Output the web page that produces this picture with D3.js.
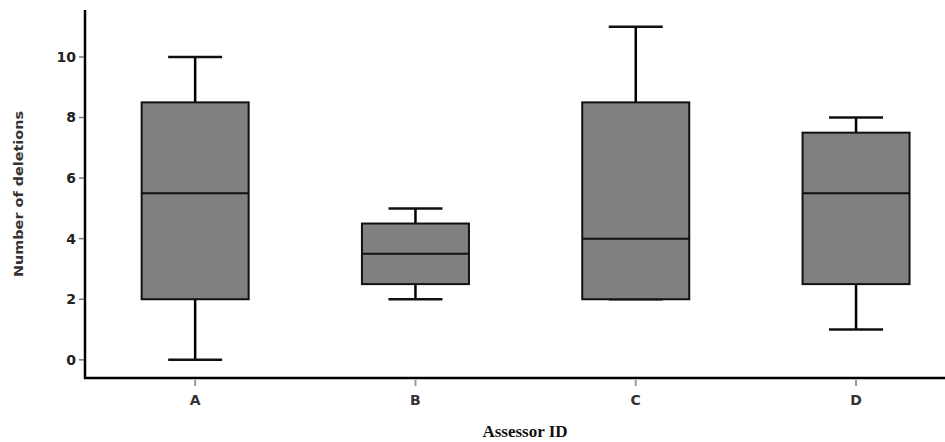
<!DOCTYPE html>
<html>
<head>
<meta charset="utf-8">
<script src="https://cdn.jsdelivr.net/npm/d3@7"></script>
<style>
  body { margin: 0; background: #fff; }
  svg { display: block; }
</style>
</head>
<body>
<svg id="chart" width="945" height="442"></svg>
<script>
const assessors = ["A", "B", "C", "D"];
const mins    = [0, 2, 2, 1];
const q1s     = [2, 2.5, 2, 2.5];
const medians = [5.5, 3.5, 4, 5.5];
const q3s     = [8.5, 4.5, 8.5, 7.5];
const maxs    = [10, 5, 11, 8];
const yTicks  = [0, 2, 4, 6, 8, 10];

const svg = d3.select("#chart");
const axisLeftX = 85, axisBottomY = 378, axisTopY = 10;

const x = d3.scaleBand()
  .domain(assessors)
  .range([axisLeftX, axisLeftX + 4 * 220.3]);

const y = d3.scaleLinear()
  .domain([-0.6, 11.55])
  .range([axisBottomY, axisTopY]);

const boxW = 107, capW = 54;

// axes lines
svg.append("line")
  .attr("x1", axisLeftX).attr("x2", axisLeftX)
  .attr("y1", axisTopY).attr("y2", axisBottomY + 1)
  .attr("stroke", "#000").attr("stroke-width", 2.5);
svg.append("line")
  .attr("x1", axisLeftX - 1).attr("x2", 945)
  .attr("y1", axisBottomY).attr("y2", axisBottomY)
  .attr("stroke", "#000").attr("stroke-width", 2.5);

// y ticks + labels
const yg = svg.append("g");
yTicks.forEach(t => {
  yg.append("line")
    .attr("x1", axisLeftX - 6).attr("x2", axisLeftX - 1)
    .attr("y1", y(t)).attr("y2", y(t))
    .attr("stroke", "#777").attr("stroke-width", 1.5);
  yg.append("text")
    .attr("x", axisLeftX - 9).attr("y", y(t))
    .attr("dy", "0.35em")
    .attr("text-anchor", "end")
    .attr("font-family", "Verdana, 'DejaVu Sans', sans-serif")
    .attr("font-weight", "bold")
    .attr("font-size", 14)
    .attr("fill", "#222")
    .text(t);
});

// x ticks + labels
assessors.forEach(a => {
  const cx = x(a) + x.bandwidth() / 2;
  svg.append("line")
    .attr("x1", cx).attr("x2", cx)
    .attr("y1", axisBottomY + 2).attr("y2", axisBottomY + 8)
    .attr("stroke", "#999").attr("stroke-width", 2);
  svg.append("text")
    .attr("x", cx).attr("y", 400)
    .attr("dy", "0.35em")
    .attr("text-anchor", "middle")
    .attr("font-family", "Verdana, 'DejaVu Sans', sans-serif")
    .attr("font-weight", "bold")
    .attr("font-size", 14)
    .attr("fill", "#333")
    .text(a);
});

// boxes
assessors.forEach((a, i) => {
  const cx = x(a) + x.bandwidth() / 2;
  const g = svg.append("g");
  // whiskers
  g.append("line")
    .attr("x1", cx).attr("x2", cx)
    .attr("y1", y(maxs[i])).attr("y2", y(q3s[i]))
    .attr("stroke", "#000").attr("stroke-width", 2.5);
  g.append("line")
    .attr("x1", cx).attr("x2", cx)
    .attr("y1", y(q1s[i])).attr("y2", y(mins[i]))
    .attr("stroke", "#000").attr("stroke-width", 2.5);
  [maxs[i], mins[i]].forEach(v => {
    g.append("line")
      .attr("x1", cx - capW / 2).attr("x2", cx + capW / 2)
      .attr("y1", y(v)).attr("y2", y(v))
      .attr("stroke", "#111").attr("stroke-width", 2.5);
  });
  g.append("rect")
    .attr("x", cx - boxW / 2)
    .attr("y", y(q3s[i]))
    .attr("width", boxW)
    .attr("height", y(q1s[i]) - y(q3s[i]))
    .attr("fill", "#808080")
    .attr("stroke", "#111").attr("stroke-width", 2);
  g.append("line")
    .attr("x1", cx - boxW / 2).attr("x2", cx + boxW / 2)
    .attr("y1", y(medians[i])).attr("y2", y(medians[i]))
    .attr("stroke", "#111").attr("stroke-width", 2);
});

// axis titles
svg.append("text")
  .attr("transform", `translate(18,194) rotate(-90)`)
  .attr("text-anchor", "middle")
  .attr("dy", "0.35em")
  .attr("font-family", "'DejaVu Sans', Verdana, sans-serif")
  .attr("font-weight", "bold")
  .attr("font-size", 13)
  .attr("fill", "#333")
  .attr("textLength", 166)
  .attr("lengthAdjust", "spacingAndGlyphs")
  .text("Number of deletions");

svg.append("text")
  .attr("x", 525).attr("y", 437)
  .attr("text-anchor", "middle")
  .attr("font-family", "'Liberation Serif', 'Times New Roman', serif")
  .attr("font-weight", "bold")
  .attr("font-size", 17)
  .attr("fill", "#111")
  .text("Assessor ID");
</script>
</body>
</html>
